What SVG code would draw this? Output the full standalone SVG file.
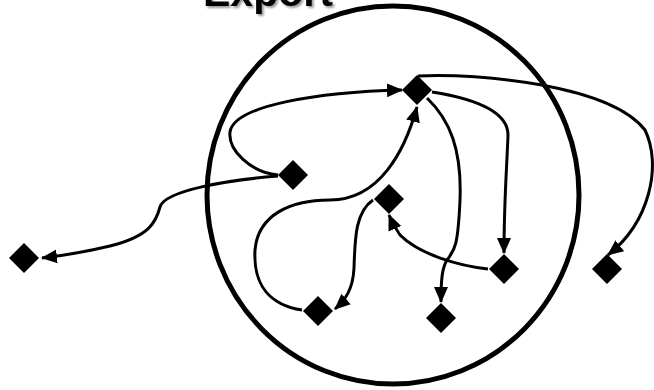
<svg xmlns="http://www.w3.org/2000/svg" width="654" height="390" viewBox="0 0 654 390">
<style>
.node{fill:#000}
.edge{fill:none;stroke:#000;stroke-width:3;marker-end:url(#arr)}
.title{font-family:"Liberation Sans",Arial,sans-serif;font-weight:bold;font-size:41px}
</style>
<defs>
<marker id="arr" markerUnits="userSpaceOnUse" markerWidth="16" markerHeight="16" viewBox="0 0 16 14" refX="15" refY="7" orient="auto">
<path d="M0,0 L16,7 L0,14 Z" fill="#000"/>
</marker>
<filter id="shadow" x="-10%" y="-50%" width="130%" height="200%">
<feDropShadow dx="2" dy="2" stdDeviation="1" flood-color="#000" flood-opacity="0.4"/>
</filter>
</defs>
<rect width="654" height="390" fill="#fff"/>
<text class="title" x="203" y="6" fill="#000" filter="url(#shadow)">Export</text>
<ellipse cx="393" cy="195" rx="186" ry="189" fill="none" stroke="#000" stroke-width="5"/>
<g id="connectors">
<path class="edge" d="M278,175 C250,172 228,150 230,132 C234,105 320,92 402,90"/>
<path class="edge" d="M278,176 C230,180 165,190 160,207 C156,222 150,236 110,246 C85,252 60,256 42,258"/>
<path class="edge" d="M432,92 C470,98 508,110 508,135 C507,165 504,200 504,253"/>
<path class="edge" d="M418,76 C480,73 610,85 645,130 C662,165 650,222 608,255"/>
<path class="edge" d="M427,98 C450,120 462,150 460,200 C458,245 455,250 447,260 C442,268 441,280 441,302"/>
<path class="edge" d="M488,269 C460,266 420,255 400,235 C395,228 392,222 389,215"/>
<path class="edge" d="M302,310 C270,305 253,285 255,250 C258,215 290,200 330,200 C380,200 405,150 417,107"/>
<path class="edge" d="M373,200 C355,212 355,240 354,268 C353,290 345,300 335,309"/>
</g>
<g id="n1"><path class="node" d="M417,75 L432,90 L417,105 L402,90 Z"/></g>
<g id="n2"><path class="node" d="M293,160 L308,175 L293,190 L278,175 Z"/></g>
<g id="n3"><path class="node" d="M24,243 L39,258 L24,273 L9,258 Z"/></g>
<g id="n4"><path class="node" d="M389,184 L404,199 L389,214 L374,199 Z"/></g>
<g id="n5"><path class="node" d="M318,296 L333,311 L318,326 L303,311 Z"/></g>
<g id="n6"><path class="node" d="M504,254 L519,269 L504,284 L489,269 Z"/></g>
<g id="n7"><path class="node" d="M441,303 L456,318 L441,333 L426,318 Z"/></g>
<g id="n8"><path class="node" d="M607,254 L622,269 L607,284 L592,269 Z"/></g>
</svg>
